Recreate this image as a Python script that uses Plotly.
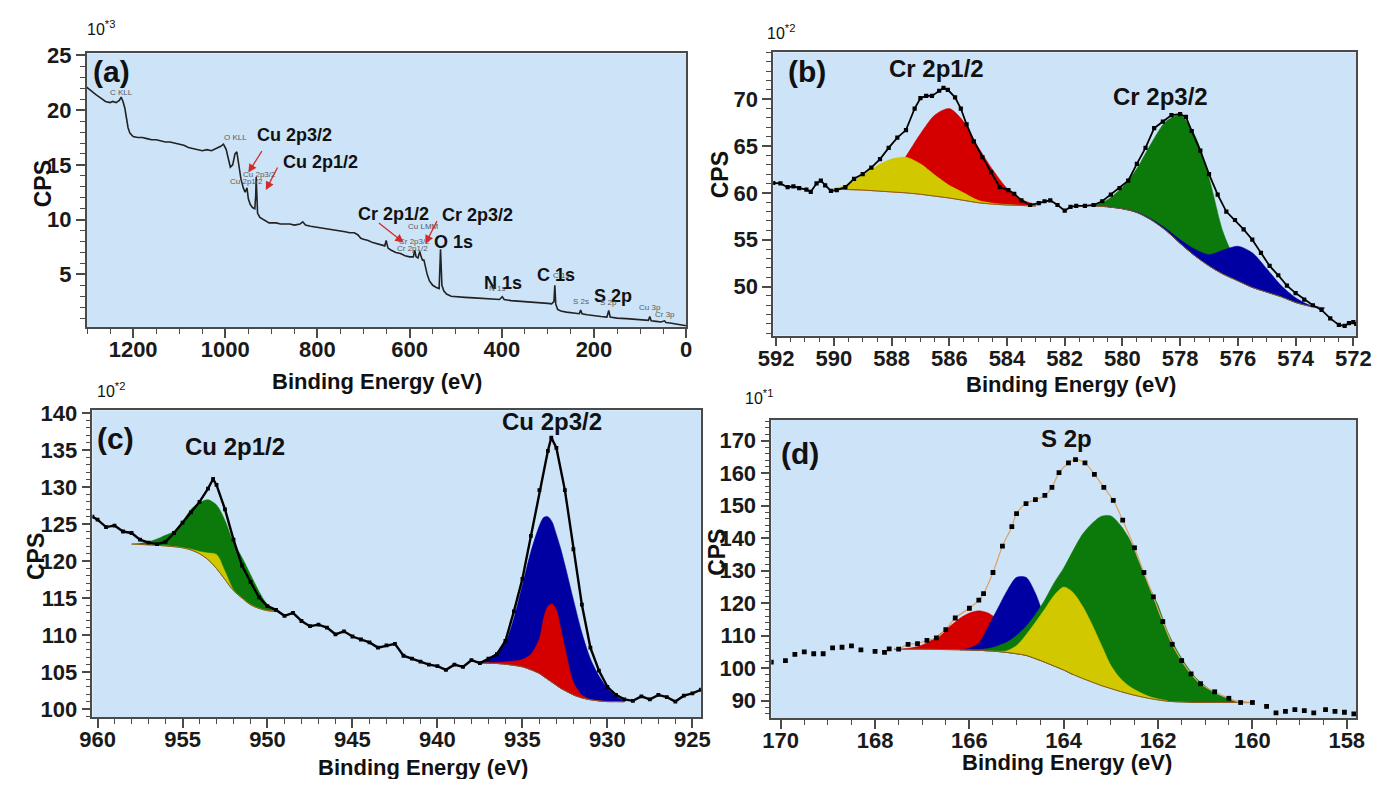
import plotly.graph_objects as go

# ---------------------------------------------------------------- data
# (a) survey spectrum, CPS in units of 10^3
survey_be = [
    1301, 1290, 1280, 1270, 1260, 1250, 1244, 1237, 1230, 1226,
    1222, 1218, 1214, 1211, 1207, 1200, 1190, 1180, 1170, 1160,
    1150, 1140, 1130, 1120, 1110, 1100, 1090, 1080, 1070, 1060,
    1050, 1040, 1030, 1020, 1010, 1004, 998, 993, 989, 984,
    979, 975, 971, 966, 961, 957, 953, 950, 946, 941,
    936, 934, 933, 931.5, 930, 925, 918, 905, 890, 880,
    870, 860, 850, 838, 832, 826, 815, 800, 790, 780,
    770, 760, 750, 740, 730, 720, 712, 706, 700, 690,
    680, 670, 660, 654, 651, 647, 640, 630, 620, 610,
    600, 592, 589, 586, 582, 578, 575, 572, 569, 566,
    562, 557, 550, 542, 536, 533, 530, 526, 520, 510,
    500, 480, 460, 440, 420, 405, 399, 395, 380, 360,
    340, 320, 300, 292, 287, 285, 283, 279, 272, 260,
    250, 240, 232, 229, 226, 215, 200, 185, 172, 168,
    165, 150, 130, 110, 100, 90, 82, 79, 76, 65,
    55, 47, 44, 35, 20, 10, 0]
survey_cps = [
    22.1, 21.7, 21.4, 21.1, 20.8, 20.7, 20.8, 20.7, 20.9, 21.2,
    20.8, 20.2, 19.3, 18.4, 17.9, 17.6, 17.5, 17.5, 17.4, 17.3,
    17.3, 17.2, 17.1, 17.1, 17.0, 16.9, 16.8, 16.6, 16.5, 16.4,
    16.3, 16.4, 16.3, 16.5, 16.7, 16.9, 16.4, 15.5, 14.8, 15.0,
    16.0, 16.2, 14.9, 13.7, 12.9, 12.5, 12.9, 11.9, 11.4, 11.1,
    11.0, 12.2, 13.9, 11.5, 10.6, 10.2, 10.0, 9.7, 9.7, 9.6,
    9.6, 9.6, 9.5, 9.6, 9.8, 9.5, 9.4, 9.3, 9.3, 9.2,
    9.1, 9.1, 9.0, 8.9, 8.8, 8.8, 8.6, 8.3, 8.2, 8.1,
    7.9, 7.8, 7.7, 7.6, 8.1, 7.4, 7.2, 7.0, 6.9, 6.7,
    6.6, 6.6, 7.2, 6.6, 6.5, 7.1, 6.6, 6.3, 6.3, 5.6,
    5.0, 4.4, 4.0, 3.8, 3.7, 7.3, 4.0, 3.5, 3.2, 3.0,
    2.95, 2.9, 2.85, 2.8, 2.75, 2.7, 2.95, 2.7, 2.6, 2.55,
    2.5, 2.45, 2.35, 2.3, 2.5, 4.0, 2.3, 1.8, 1.65, 1.55,
    1.5, 1.4, 1.4, 1.75, 1.4, 1.3, 1.2, 1.15, 1.1, 1.7,
    1.1, 1.0, 0.95, 0.9, 0.85, 0.8, 0.8, 1.15, 0.75, 0.7,
    0.65, 0.75, 0.6, 0.55, 0.45, 0.4, 0.3]

# (b) Cr 2p, CPS in units of 10^2
cr_be = [
    592.1, 591.85, 591.6, 591.4, 591.2, 590.95, 590.8, 590.6, 590.45, 590.3,
    590.1, 589.9, 589.6, 589.3, 589.0, 588.7, 588.4, 588.1, 587.8, 587.5,
    587.2, 587.0, 586.8, 586.6, 586.35, 586.2, 586.05, 585.8, 585.6, 585.4,
    585.15, 584.85, 584.55, 584.25, 583.95, 583.75, 583.5, 583.2, 582.9, 582.7,
    582.5, 582.25, 582.0, 581.8, 581.6, 581.3, 581.0, 580.7, 580.4, 580.1,
    579.8, 579.5, 579.2, 578.9, 578.6, 578.3, 578.0, 577.8, 577.6, 577.3,
    577.0, 576.7, 576.4, 576.1, 575.8, 575.5, 575.2, 574.9, 574.6, 574.3,
    574.0, 573.7, 573.4, 573.1, 572.8, 572.5, 572.3, 572.15, 572.0, 571.9]
cr_cps = [
    61.05, 61.0, 60.6, 60.7, 60.5, 60.35, 60.1, 61.0, 61.3, 60.8,
    60.2, 60.3, 60.6, 61.5, 62.0, 62.7, 63.6, 64.8, 65.9, 66.7,
    69.0, 70.1, 70.35, 70.35, 70.9, 71.2, 71.0, 70.2, 69.0, 67.3,
    65.5, 63.8, 62.2, 60.6, 60.3, 59.9, 59.2, 58.7, 58.9, 59.1,
    59.2, 58.7, 58.1, 58.5, 58.6, 58.6, 58.7, 59.1, 59.8, 60.5,
    61.3, 63.1, 64.8, 66.9, 67.6, 68.3, 68.4, 68.1, 66.6, 64.5,
    62.0, 59.8, 58.0, 57.1, 56.1, 55.0, 53.6, 52.2, 51.2, 50.1,
    49.3, 48.6, 48.0, 47.5, 46.6, 45.9, 45.8, 46.1, 46.2, 46.0]
cr1_be = [590.0, 589.5, 589.0, 588.5, 588.0, 587.5, 587.0, 586.5,
          586.0, 585.5, 585.0, 584.5, 584.0, 583.5, 583.0]
cr1_base = [60.4, 60.35, 60.3, 60.2, 60.1, 60.0, 59.85, 59.65,
            59.45, 59.2, 58.95, 58.8, 58.7, 58.65, 58.6]
cr1_red = [60.4, 60.4, 60.4, 60.7, 61.6, 63.9, 66.3, 68.3,
           69.0, 67.6, 64.9, 62.5, 60.5, 59.3, 58.7]
cr1_yellow = [60.5, 60.9, 61.9, 62.9, 63.6, 63.8, 63.1, 61.9,
              60.8, 60.0, 59.2, 58.9, 58.75, 58.65, 58.6]
cr2_be = [581.0, 580.5, 580.0, 579.5, 579.0, 578.5, 578.0, 577.5, 577.0,
          576.5, 576.0, 575.5, 575.0, 574.5, 574.0, 573.5, 573.0]
cr2_base = [58.6, 58.5, 58.3, 57.9, 57.1, 56.0, 54.6, 53.3, 52.2,
            51.3, 50.6, 49.9, 49.4, 48.9, 48.3, 47.9, 47.7]
cr2_green = [58.6, 59.3, 60.6, 62.6, 65.3, 67.6, 68.3, 66.2, 61.6,
             55.7, 52.4, 50.7, 49.7, 49.0, 48.3, 47.9, 47.7]
cr2_blue = [58.6, 58.5, 58.3, 57.95, 57.2, 56.2, 55.0, 54.0, 53.4,
            53.9, 54.3, 53.6, 51.9, 50.1, 48.8, 48.0, 47.7]

# (c) Cu 2p, CPS in units of 10^2
cu_be = [
    960.3, 960.0, 959.5, 959.0, 958.5, 958.0, 957.5, 957.0, 956.5, 956.0,
    955.5, 955.0, 954.5, 954.0, 953.5, 953.2, 953.0, 952.5, 952.0, 951.5,
    951.0, 950.5, 950.0, 949.5, 949.0, 948.5, 948.0, 947.5, 947.0, 946.5,
    946.0, 945.5, 945.0, 944.5, 944.0, 943.5, 943.0, 942.5, 942.0, 941.5,
    941.0, 940.5, 940.0, 939.5, 939.0, 938.5, 938.0, 937.5, 937.0, 936.5,
    936.0, 935.5, 935.0, 934.5, 934.0, 933.5, 933.3, 933.0, 932.5, 932.0,
    931.5, 931.0, 930.5, 930.0, 929.5, 929.0, 928.5, 928.0, 927.5, 927.0,
    926.5, 926.0, 925.5, 925.0, 924.5]
cu_cps = [
    126.0, 125.6, 124.6, 124.8, 124.0, 123.8, 122.9, 122.5, 122.3, 122.6,
    123.8, 125.2, 126.6, 128.0, 129.8, 131.1, 130.3, 127.0, 122.9, 119.4,
    117.2, 115.1, 113.9, 113.4, 112.6, 113.0, 111.9, 111.2, 111.4, 111.0,
    110.1, 110.5, 109.8, 109.4, 109.0, 108.3, 108.6, 108.8, 107.2, 106.8,
    106.4, 106.0, 105.8, 105.3, 106.0, 105.7, 106.6, 106.2, 106.8, 107.4,
    109.2, 113.2, 117.6, 123.4, 129.6, 134.9, 136.7, 135.3, 129.6, 121.6,
    114.1, 108.3, 105.2, 103.0, 101.9, 101.3, 101.1, 101.7, 101.3, 101.9,
    101.6, 101.0, 101.8, 102.1, 102.6]
cu1_be = [958.0, 957.5, 957.0, 956.5, 956.0, 955.5, 955.0, 954.5, 954.0,
          953.5, 953.0, 952.5, 952.0, 951.5, 951.0, 950.5, 950.0, 949.5]
cu1_base = [122.3, 122.25, 122.2, 122.15, 122.05, 121.95, 121.8, 121.5, 121.0,
            120.2, 119.0, 117.5, 116.0, 115.0, 114.1, 113.6, 113.3, 113.2]
cu1_green = [122.3, 122.4, 122.6, 123.0, 123.5, 124.0, 125.3, 127.0, 127.9,
             128.3, 127.6, 125.5, 122.5, 120.5, 118.2, 115.9, 114.1, 113.2]
cu1_yellow = [122.3, 122.25, 122.2, 122.15, 122.05, 121.95, 121.8, 121.6, 121.3,
              121.1, 120.9, 118.6, 116.1, 115.0, 114.1, 113.6, 113.3, 113.2]
cu2_be = [937.5, 937.0, 936.5, 936.0, 935.5, 935.0, 934.5, 934.0, 933.75, 933.5,
          933.25, 933.0, 932.75, 932.5, 932.0, 931.5, 931.0, 930.5, 930.0, 929.5, 929.0]
cu2_base = [106.2, 106.2, 106.15, 106.05, 105.9, 105.7, 105.3, 104.8, 104.4, 104.0,
            103.6, 103.2, 102.8, 102.5, 101.9, 101.5, 101.25, 101.1, 101.0, 101.0, 101.0]
cu2_blue = [106.3, 106.8, 107.6, 109.0, 112.3, 116.8, 121.3, 124.8, 125.9, 126.0,
            125.3, 123.6, 121.7, 119.5, 114.8, 110.3, 106.8, 104.5, 102.8, 101.7, 101.1]
cu2_red = [106.2, 106.25, 106.3, 106.4, 106.5, 106.7, 107.4, 109.5, 112.3, 113.9,
           114.2, 113.4, 111.0, 108.3, 103.6, 101.9, 101.3, 101.1, 101.0, 101.0, 101.0]

# (d) S 2p, CPS in units of 10^1
s_raw_be = [
    170.2, 169.9, 169.7, 169.5, 169.3, 169.1, 168.9, 168.7, 168.5, 168.3,
    168.0, 167.8, 167.7, 167.5, 167.3, 167.1, 166.9, 166.7, 166.5, 166.3,
    166.0, 165.8, 165.7, 165.5, 165.3, 165.1, 165.0, 164.8, 164.6, 164.4,
    164.25, 164.1, 163.9, 163.75, 163.55, 163.35, 163.15, 162.95, 162.75, 162.5,
    162.3, 162.1, 161.9, 161.7, 161.5, 161.3, 161.1, 160.8, 160.5, 160.25,
    160.0, 159.7, 159.5, 159.3, 159.1, 158.9, 158.7, 158.45, 158.25, 158.05,
    157.85]
s_raw_cps = [
    101.8, 102.3, 104.2, 105.0, 104.4, 104.4, 106.2, 106.4, 106.8, 105.6,
    105.1, 104.8, 105.9, 105.8, 107.3, 107.5, 108.5, 109.3, 111.8, 115.4,
    118.4, 120.9, 122.9, 129.4, 137.5, 143.5, 147.5, 150.6, 151.8, 153.1,
    155.6, 160.1, 163.1, 164.1, 163.1, 159.6, 155.6, 151.6, 145.5, 137.0,
    129.4, 121.9, 114.3, 107.3, 102.3, 98.2, 95.2, 92.7, 90.7, 89.4,
    89.4, 88.2, 86.2, 86.7, 87.2, 86.9, 86.2, 87.2, 86.7, 86.4,
    85.9]
s_be = [167.6, 167.4, 167.2, 167.0, 166.8, 166.6, 166.4, 166.2, 166.0, 165.8,
        165.6, 165.4, 165.2, 165.0, 164.8, 164.6, 164.4, 164.2, 164.0, 163.8,
        163.6, 163.4, 163.2, 163.0, 162.8, 162.6, 162.4, 162.2, 162.0, 161.8,
        161.6, 161.4, 161.2, 161.0, 160.8, 160.6, 160.4, 160.2, 160.0]
s_base = [105.8, 105.8, 105.8, 105.8, 105.75, 105.7, 105.65, 105.6, 105.55, 105.45,
          105.3, 105.1, 104.8, 104.4, 103.9, 102.9, 101.8, 100.6, 99.4, 98.0,
          96.8, 95.7, 94.6, 93.7, 92.8, 92.0, 91.3, 90.7, 90.2, 89.8,
          89.6, 89.5, 89.4, 89.4, 89.4, 89.4, 89.4, 89.4, 89.4]
# component tops; each starts at the given grid index of s_be
s_red_start, s_red = 0, [105.8, 105.9, 106.3, 107.1, 108.6, 110.7, 113.0, 115.3, 116.9,
                         117.6, 116.9, 114.8, 111.6, 108.3, 106.0, 103.4, 101.9, 100.6]
s_blue_start, s_blue = 7, [105.7, 106.1, 107.6, 112.8, 118.3, 123.8, 127.9, 127.9,
                           123.0, 115.0, 107.5, 101.6, 98.2]
s_green_start, s_green = 7, [105.6, 105.6, 105.7, 106.0, 106.8, 108.0, 110.0, 112.8,
                             116.5, 121.0, 126.3, 130.8, 136.2, 141.2, 144.5, 146.7,
                             146.8, 144.0, 139.5, 132.5, 125.5, 119.3, 111.3, 105.5,
                             100.8, 97.0, 94.5, 92.3, 91.0, 90.0, 89.6, 89.4]
s_yellow_start, s_yellow = 10, [105.3, 105.15, 105.3, 106.9, 110.2, 114.1, 118.2, 122.4,
                                124.9, 123.2, 119.0, 113.4, 107.0, 100.8, 96.8, 94.3,
                                92.6, 91.3, 90.5, 89.9]

# ---------------------------------------------------------------- layout helpers
W, H, OFF = 1372, 771, 8          # page has an 8 px body margin


def PX(x):
    return (x - OFF) / W


def PY(y):
    return 1 - (y - OFF) / H


AX = '#4a4a4a'
FONT = 'Liberation Sans, Arial, sans-serif'
RED, YEL, GRN, BLU = '#d40000', '#d2c800', '#0b7a0b', '#0000a2'
BASEC, ENVC = '#8a5a24', '#e0a060'
BG = '#cde4f8'

common = dict(showline=True, linecolor=AX, linewidth=1.5, mirror=True,
              ticks='outside', ticklen=9, tickwidth=1.5, tickcolor=AX,
              showgrid=False, zeroline=False, fixedrange=True,
              tickfont=dict(family=FONT, size=22, color='#1a1a1a', weight='bold'))


def xaxis(dom, rng, dtick, mdtick, anchor):
    return dict(domain=[PX(dom[0]), PX(dom[1])], range=rng, anchor=anchor,
                tickmode='linear', tick0=0, dtick=dtick,
                minor=dict(ticks='outside', ticklen=5, tickwidth=1.2, tickcolor=AX,
                           tickmode='linear', tick0=0, dtick=mdtick),
                **common)


def yaxis(dom, rng, vals, mdtick, anchor):
    return dict(domain=[PY(dom[1]), PY(dom[0])], range=rng, anchor=anchor,
                tickmode='array', tickvals=vals,
                minor=dict(ticks='outside', ticklen=5, tickwidth=1.2, tickcolor=AX,
                           tickmode='linear', tick0=0, dtick=mdtick),
                **common)


def band(xs, top, base, color, xa, ya):
    px_ = list(xs) + list(xs)[::-1]
    py_ = list(top) + list(base)[::-1]
    pts = []
    for p in zip(px_, py_):
        if not pts or p != pts[-1]:
            pts.append(p)
    if pts[0] == pts[-1]:
        pts.pop()
    return go.Scatter(x=[p[0] for p in pts], y=[p[1] for p in pts], mode='lines',
                      fill='toself', fillcolor=color,
                      line=dict(width=0.5, color=color, shape='spline', smoothing=0.8),
                      hoverinfo='skip', xaxis=xa, yaxis=ya)


def line(xs, ys, color, width, xa, ya, shape='linear'):
    return go.Scatter(x=xs, y=ys, mode='lines',
                      line=dict(color=color, width=width, shape=shape),
                      hoverinfo='skip', xaxis=xa, yaxis=ya)


fig = go.Figure()

# (a)
fig.add_trace(line(survey_be, survey_cps, '#222222', 1.6, 'x', 'y'))

# (b)
fig.add_trace(band(cr1_be, cr1_red, cr1_base, RED, 'x2', 'y2'))
fig.add_trace(band(cr1_be, cr1_yellow, cr1_base, YEL, 'x2', 'y2'))
fig.add_trace(band(cr2_be, cr2_green, cr2_base, GRN, 'x2', 'y2'))
fig.add_trace(band(cr2_be, cr2_blue, cr2_base, BLU, 'x2', 'y2'))
fig.add_trace(line(cr1_be, cr1_base, BASEC, 1, 'x2', 'y2', 'spline'))
fig.add_trace(line(cr2_be, cr2_base, BASEC, 1, 'x2', 'y2', 'spline'))
fig.add_trace(go.Scatter(x=cr_be, y=cr_cps, mode='lines+markers',
                         line=dict(color='black', width=1.8),
                         marker=dict(symbol='square', size=4.2, color='black'),
                         hoverinfo='skip', xaxis='x2', yaxis='y2'))

# (c)
fig.add_trace(band(cu1_be, cu1_green, cu1_base, GRN, 'x3', 'y3'))
fig.add_trace(band(cu1_be, cu1_yellow, cu1_base, YEL, 'x3', 'y3'))
fig.add_trace(band(cu2_be, cu2_blue, cu2_base, BLU, 'x3', 'y3'))
fig.add_trace(band(cu2_be, cu2_red, cu2_base, RED, 'x3', 'y3'))
fig.add_trace(line(cu1_be, cu1_base, BASEC, 1, 'x3', 'y3', 'spline'))
fig.add_trace(line(cu2_be, cu2_base, BASEC, 1, 'x3', 'y3', 'spline'))
fig.add_trace(go.Scatter(x=cu_be, y=cu_cps, mode='lines+markers',
                         line=dict(color='black', width=2.4),
                         marker=dict(symbol='square', size=3.8, color='black'),
                         hoverinfo='skip', xaxis='x3', yaxis='y3'))

# (d)
for start, top, col in [(s_red_start, s_red, RED), (s_blue_start, s_blue, BLU),
                        (s_green_start, s_green, GRN), (s_yellow_start, s_yellow, YEL)]:
    n = len(top)
    fig.add_trace(band(s_be[start:start + n], top, s_base[start:start + n], col, 'x4', 'y4'))
fig.add_trace(line(s_be, s_base, BASEC, 1, 'x4', 'y4', 'spline'))
env = [(b, c) for b, c in zip(s_raw_be, s_raw_cps) if s_be[-1] <= b <= s_be[0]]
fig.add_trace(line([e[0] for e in env], [e[1] for e in env], ENVC, 1.2, 'x4', 'y4', 'spline'))
fig.add_trace(go.Scatter(x=s_raw_be, y=s_raw_cps, mode='markers',
                         marker=dict(symbol='square', size=4.8, color='black'),
                         hoverinfo='skip', xaxis='x4', yaxis='y4'))

# ---------------------------------------------------------------- axes
fig.update_layout(
    xaxis=xaxis([73, 686], [1301, 0], 200, 50, 'y'),
    yaxis=yaxis([44, 323], [0.2, 25.2], [5, 10, 15, 20, 25], 1, 'x'),
    xaxis2=xaxis([775, 1371], [592.1, 571.9], 2, 0.5, 'y2'),
    yaxis2=yaxis([43, 332], [44.75, 75.0], [50, 55, 60, 65, 70], 1, 'x2'),
    xaxis3=xaxis([79, 701], [960.3, 924.5], 5, 1, 'y3'),
    yaxis3=yaxis([408, 721], [98.9, 140.4], [100, 105, 110, 115, 120, 125, 130, 135, 140], 1, 'x3'),
    xaxis4=xaxis([773, 1371], [170.2, 157.8], 2, 0.5, 'y4'),
    yaxis4=yaxis([418, 722], [84.6, 176.3], [90, 100, 110, 120, 130, 140, 150, 160, 170], 2, 'x4'),
)
try:
    fig.update_xaxes(ticklabelstandoff=-7)
except Exception:
    pass

# ---------------------------------------------------------------- text
ann = []


def paper_text(X, Y, s, size, color='#111111', xanchor='center', angle=0):
    ann.append(dict(x=PX(X), y=PY(Y), xref='paper', yref='paper', text=s, showarrow=False,
                    xanchor=xanchor, yanchor='middle', textangle=angle,
                    font=dict(family=FONT, size=size, color=color)))


def data_text(x, y, s, size, xr='x', yr='y', color='#111111'):
    ann.append(dict(x=x, y=y, xref=xr, yref=yr, text=s, showarrow=False,
                    xanchor='center', yanchor='middle',
                    font=dict(family=FONT, size=size, color=color)))


# exponent labels
for X, Y, e in [(71, 18, '3'), (767, 22, '2'), (82, 387, '2'), (744, 395, '1')]:
    paper_text(X, Y, '10<sup>*' + e + '</sup>', 16, xanchor='left')
# panel letters
for X, Y, s in [(98, 63, '(a)'), (810, 63, '(b)'), (103, 437, '(c)'), (802, 452, '(d)')]:
    paper_text(X, Y, '<b>' + s + '</b>', 30)
# peak labels b, c, d
for X, Y, s in [(942, 60, 'Cr 2p1/2'), (1171, 88, 'Cr 2p3/2'),
                (225, 445, 'Cu 2p1/2'), (549, 420, 'Cu 2p3/2'), (1075, 437, 'S 2p')]:
    paper_text(X, Y, '<b>' + s + '</b>', 24)
# axis titles
for X, Y in [(370, 379), (1079, 382), (417, 772), (1075, 767)]:
    paper_text(X, Y, '<b>Binding Energy (eV)</b>', 22)
for X, Y in [(28, 177), (720, 168), (22, 557), (718, 553)]:
    paper_text(X, Y, '<b>CPS</b>', 23, angle=-90)

# survey labels
for x, y, s in [(850, 17.75, 'Cu 2p3/2'), (793, 15.3, 'Cu 2p1/2'),
                (634, 10.5, 'Cr 2p1/2'), (452, 10.4, 'Cr 2p3/2'), (504, 8.0, 'O 1s'),
                (397, 4.2, 'N 1s'), (282, 4.9, 'C 1s'), (158, 3.0, 'S 2p')]:
    data_text(x, y, '<b>' + s + '</b>', 18)
for x, y, s in [(1225, 21.65, 'C KLL'), (978, 17.5, 'O KLL'), (926, 14.1, 'Cu 2p3/2'),
                (955, 13.5, 'Cu 2p1/2'), (571, 9.4, 'Cu LMM'), (590, 8.0, 'Cr 2p3/2'),
                (594, 7.4, 'Cr 2p1/2'), (410, 3.7, 'N 1s'), (272, 4.9, 'C 1s'),
                (229, 2.5, 'S 2s'), (168, 2.4, 'S 2p'), (78, 2.0, 'Cu 3p'), (45, 1.3, 'Cr 3p')]:
    data_text(x, y, s, 8, color='#5a5a5a')
for hx, hy, tx, ty in [(950, 14.3, 918.6, 16.4), (912, 12.7, 885, 14.9),
                       (613, 7.9, 670, 9.8), (566, 7.8, 539, 10.0)]:
    ann.append(dict(x=hx, y=hy, ax=tx, ay=ty, xref='x', yref='y', axref='x', ayref='y',
                    text='', showarrow=True, arrowhead=2, arrowsize=1.3, arrowwidth=1.3,
                    arrowcolor='#d42a2a'))

fig.update_layout(annotations=ann, width=W, height=H,
                  margin=dict(l=0, r=0, t=0, b=0),
                  paper_bgcolor='white', plot_bgcolor=BG, showlegend=False,
                  font=dict(family=FONT))

fig.write_html("out.html")
